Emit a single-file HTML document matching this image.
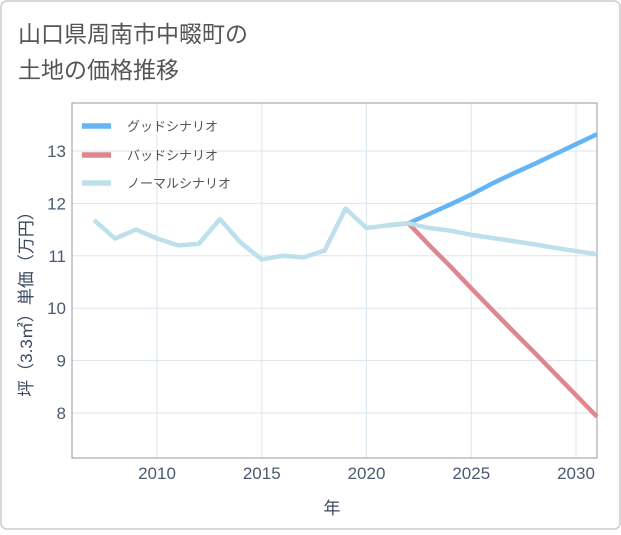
<!DOCTYPE html>
<html><head><meta charset="utf-8"><style>
body{margin:0;background:#fff;}
svg text{font-family:"Liberation Sans","Noto Sans CJK JP",sans-serif;}
</style></head><body>
<svg width="621" height="530" xmlns="http://www.w3.org/2000/svg">
<rect x="1" y="1" width="619" height="528" rx="6" fill="#fff" stroke="#ccc" stroke-width="1.5"/>
<text x="18" y="42" font-size="23" fill="#555">山口県周南市中畷町の</text>
<text x="18" y="78" font-size="23" fill="#555">土地の価格推移</text>
<g id="grid"></g>
<rect x="72" y="103" width="525" height="355" fill="none" stroke="#999" stroke-width="1"/>
<g id="series"></g>
<g id="ticks"></g>
<text x="332" y="514" font-size="17" fill="#3a4a60" text-anchor="middle">年</text>
<text transform="translate(32,300) rotate(-90)" font-size="17" fill="#3a4a60" text-anchor="middle">坪（3.3㎡）単価（万円）</text>
<g>
<line x1="82" y1="126" x2="111" y2="126" stroke="#64b5f6" stroke-width="5.5"/>
<text x="127" y="131" font-size="13" fill="#555">グッドシナリオ</text>
<line x1="82" y1="155" x2="111" y2="155" stroke="#e0868e" stroke-width="5.5"/>
<text x="127" y="160" font-size="13" fill="#555">バッドシナリオ</text>
<line x1="82" y1="183" x2="111" y2="183" stroke="#bde0ec" stroke-width="5.5"/>
<text x="127" y="188" font-size="13" fill="#555">ノーマルシナリオ</text>
</g>
</svg>
<script>
const normalYears=[2007,2008,2009,2010,2011,2012,2013,2014,2015,2016,2017,2018,2019,2020,2021,2022,2023,2024,2025,2026,2027,2028,2029,2030,2031];
const normalValues=[11.68,11.33,11.5,11.33,11.2,11.23,11.7,11.25,10.93,11.0,10.97,11.1,11.9,11.53,11.58,11.62,11.53,11.48,11.4,11.34,11.28,11.22,11.15,11.09,11.03];
const goodYears=[2021,2022,2023,2024,2025,2026,2027,2028,2029,2030,2031];
const goodValues=[11.58,11.62,11.8,11.98,12.17,12.38,12.57,12.75,12.94,13.13,13.32];
const badYears=[2021,2022,2023,2024,2025,2026,2027,2028,2029,2030,2031];
const badValues=[11.58,11.62,11.2,10.8,10.38,9.97,9.56,9.16,8.75,8.34,7.93];
const xTicks=[2010,2015,2020,2025,2030];
const yTicks=[8,9,10,11,12,13];
const NS="http://www.w3.org/2000/svg";
const X=y=>157+(y-2010)*20.95;
const Y=v=>151+(13-v)*52.4;
const grid=document.getElementById('grid'),ticks=document.getElementById('ticks'),series=document.getElementById('series');
function mk(tag,attrs,parent){const e=document.createElementNS(NS,tag);for(const k in attrs)e.setAttribute(k,attrs[k]);parent.appendChild(e);return e;}
xTicks.forEach(t=>{
const l=mk('line',{x1:X(t),x2:X(t),y1:103,y2:458,stroke:'#dde6ee','stroke-width':1},grid);


const tx=mk('text',{x:X(t),y:479,'font-size':17,fill:'#4a5a70','text-anchor':'middle'},ticks);tx.textContent=t;


});
yTicks.forEach(t=>{
const l=mk('line',{x1:72,x2:597,y1:Y(t),y2:Y(t),stroke:'#dde6ee','stroke-width':1},grid);


const tx=mk('text',{x:66,y:Y(t)+6,'font-size':17,fill:'#4a5a70','text-anchor':'end'},ticks);tx.textContent=t;


});
function line(xs,vs,color,name){
const p=mk('polyline',{points:xs.map((x,i)=>X(x)+','+Y(vs[i])).join(' '),fill:'none',stroke:color,'stroke-width':4.5,'stroke-linejoin':'round'},series);


}
line(badYears,badValues,'#e0868e','bad-scenario-line');
line(goodYears,goodValues,'#64b5f6','good-scenario-line');
line(normalYears,normalValues,'#bde0ec','normal-scenario-line');
</script>
</body></html>
